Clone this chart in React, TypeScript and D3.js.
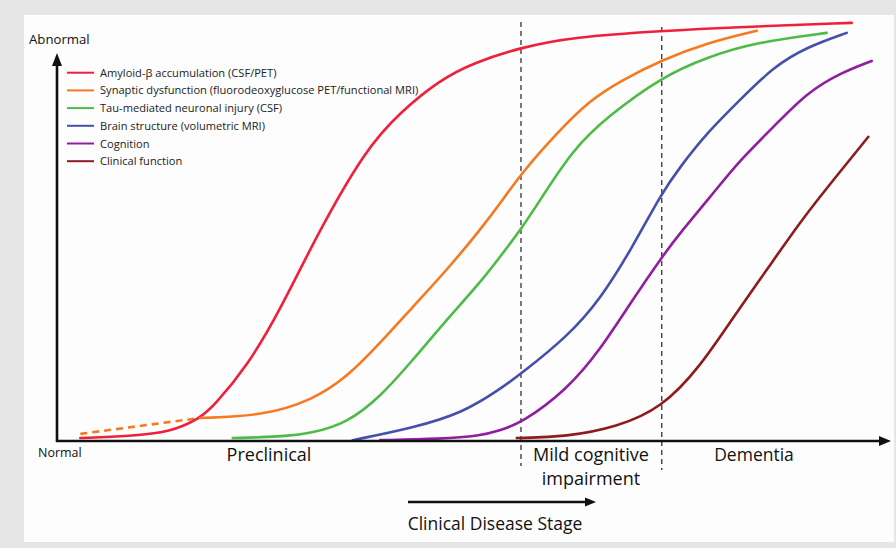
import React from "react";
import * as d3 from "d3";

// Biomarker names shown in the legend
const seriesNames = [
  "Amyloid-β accumulation (CSF/PET)",
  "Synaptic dysfunction (fluorodeoxyglucose PET/functional MRI)",
  "Tau-mediated neuronal injury (CSF)",
  "Brain structure (volumetric MRI)",
  "Cognition",
  "Clinical function",
];

// Disease stage (0-100) / abnormality (0-100)
const amyloidX = [2.8, 8.8, 13.6, 17.2, 18.7, 22.8, 26.8, 31.2, 37.0, 41.2, 46.0, 49.9, 55.8, 61.9, 72.6, 82.0, 95.4];
const amyloidY = [0.7, 1.2, 2.1, 5.5, 8.1, 17.7, 31.3, 49.2, 69.5, 78.5, 86.2, 90.2, 94.0, 96.4, 97.9, 98.8, 99.8];

const synapticDashX = [2.8, 17.2];
const synapticDashY = [1.7, 5.5];
const synapticX = [17.2, 24.7, 30.7, 34.8, 38.8, 42.7, 46.8, 50.8, 53.5, 55.8, 60.0, 64.0, 67.9, 72.6, 78.0, 84.0];
const synapticY = [5.5, 6.0, 9.8, 15.2, 23.4, 32.0, 40.8, 50.4, 57.5, 64.0, 73.5, 81.4, 86.2, 90.9, 95.0, 97.9];

const tauX = [21.1, 26.8, 30.7, 34.8, 38.8, 42.7, 46.8, 50.8, 53.2, 55.8, 58.0, 61.9, 66.0, 72.6, 78.0, 84.0, 92.4];
const tauY = [0.7, 1.0, 1.9, 4.3, 10.5, 19.3, 29.0, 37.8, 44.0, 50.8, 57.5, 69.5, 77.3, 86.9, 91.6, 95.2, 97.4];

const structureX = [35.5, 42.7, 48.7, 53.2, 55.8, 61.2, 65.2, 69.1, 72.6, 74.8, 78.0, 82.0, 86.0, 90.0, 94.8];
const structureY = [0.2, 3.1, 6.7, 12.4, 16.2, 24.8, 33.7, 46.3, 59.2, 65.4, 73.5, 81.4, 89.3, 94.0, 97.4];

const cognitionX = [38.8, 46.0, 50.8, 53.2, 55.8, 61.2, 65.2, 69.1, 72.6, 75.1, 78.4, 82.0, 86.0, 90.0, 94.0, 97.8];
const cognitionY = [0.2, 0.5, 1.2, 2.6, 4.3, 12.2, 21.7, 33.7, 43.9, 50.4, 58.2, 67.1, 74.9, 83.1, 87.8, 90.7];

const clinicalX = [55.2, 61.2, 67.2, 72.6, 77.2, 81.2, 85.2, 89.2, 93.2, 97.4];
const clinicalY = [0.7, 1.0, 3.3, 7.9, 17.7, 29.6, 40.8, 52.3, 62.3, 72.6];

// Stage boundaries (MCI start, dementia start)
const stageBounds = [55.7, 72.6];

const seriesColors = ["#f0203a", "#f7791f", "#4dbb48", "#4450aa", "#8f1f9e", "#8e1b1e"];

const zip = (xs: number[], ys: number[]) => xs.map((v, i) => ({ x: v, y: ys[i] }));

const series = [
  zip(amyloidX, amyloidY),
  zip(synapticX, synapticY),
  zip(tauX, tauY),
  zip(structureX, structureY),
  zip(cognitionX, cognitionY),
  zip(clinicalX, clinicalY),
];

const W = 896;
const H = 548;
const FONT = "'Open Sans', 'Noto Sans', sans-serif";

const App: React.FC = () => {
  const x = d3.scaleLinear().domain([0, 100]).range([57, 890]);
  const y = d3.scaleLinear().domain([0, 100]).range([441, 22]);

  // smooth sigmoid-like curves through the hand-read points
  const line = d3
    .line<{ x: number; y: number }>()
    .x((d) => x(d.x))
    .y((d) => y(d.y))
    .curve(d3.curveBasis);

  const straight = d3
    .line<{ x: number; y: number }>()
    .x((d) => x(d.x))
    .y((d) => y(d.y));

  const x0 = x(0);
  const y0 = y(0);

  return (
    <svg
      width={W}
      height={H}
      style={{ position: "absolute", left: 0, top: 0, display: "block" }}
      fontFamily={FONT}
    >
      {/* background + panel */}
      <rect x={0} y={0} width={W} height={H} fill="#e6e6e6" />
      <rect x={24} y={15} width={870} height={527} fill="#fdfdfd" />

      {/* stage dividers */}
      <line x1={x(stageBounds[0])} x2={x(stageBounds[0])} y1={22} y2={466} stroke="#333" strokeWidth={1.3} strokeDasharray="5,4" />
      <line x1={x(stageBounds[1])} x2={x(stageBounds[1])} y1={27} y2={470} stroke="#333" strokeWidth={1.3} strokeDasharray="5,4" />

      {/* curves */}
      <path
        d={straight(zip(synapticDashX, synapticDashY)) || ""}
        fill="none"
        stroke={seriesColors[1]}
        strokeWidth={2.6}
        strokeDasharray="7,5"
      />
      {series.map((s, i) => (
        <path
          key={i}
          d={line(s) || ""}
          fill="none"
          stroke={seriesColors[i]}
          strokeWidth={2.6}
          strokeLinecap="round"
        />
      ))}

      {/* axes */}
      <line x1={x0} x2={x0} y1={y0 + 1} y2={64} stroke="#111" strokeWidth={2.6} />
      <path d={`M${x0},53 L${x0 - 5},66 L${x0 + 5},66 Z`} fill="#111" />
      <line x1={x0 - 1} x2={882} y1={y0} y2={y0} stroke="#111" strokeWidth={2.6} />
      <path d={`M891,${y0} L879,${y0 - 5} L879,${y0 + 5} Z`} fill="#111" />

      {/* axis end labels */}
      <text x={29} y={44} fontSize={13.2} fill="#111">Abnormal</text>
      <text x={38} y={457} fontSize={12.5} fill="#111">Normal</text>

      {/* legend */}
      {seriesNames.map((name, i) => (
        <g key={name} transform={`translate(0, ${72.7 + i * 17.7})`}>
          <line x1={67} x2={94} y1={0} y2={0} stroke={seriesColors[i]} strokeWidth={2} />
          <text x={100} y={4} fontSize={11.1} fill="#222">{name}</text>
        </g>
      ))}

      {/* stage labels */}
      <text x={269} y={461} fontSize={18} textAnchor="middle" fill="#111">Preclinical</text>
      <text x={591} y={461} fontSize={18} textAnchor="middle" fill="#111">Mild cognitive</text>
      <text x={591} y={485} fontSize={18} textAnchor="middle" fill="#111">impairment</text>
      <text x={754} y={461} fontSize={17.5} textAnchor="middle" fill="#111">Dementia</text>

      {/* clinical disease stage arrow */}
      <line x1={408} x2={588} y1={502} y2={502} stroke="#111" strokeWidth={2.6} />
      <path d="M596,502 L585,497.5 L585,506.5 Z" fill="#111" />
      <text x={495} y={530} fontSize={17.5} textAnchor="middle" fill="#111">Clinical Disease Stage</text>
    </svg>
  );
};

export default App;
